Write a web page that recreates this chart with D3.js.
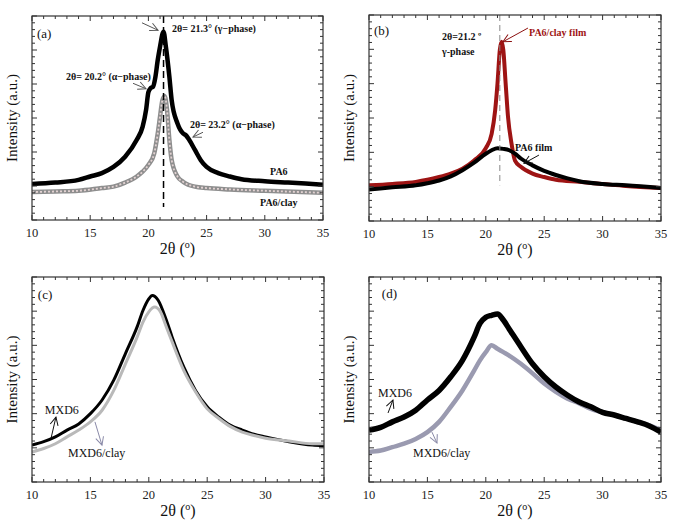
<!DOCTYPE html>
<html>
<head>
<meta charset="utf-8">
<script src="https://cdn.jsdelivr.net/npm/d3@7"></script>
<style>
  body { margin: 0; background: #fff; }
</style>
</head>
<body>
<div id="chart"></div>
<script>
// x ticks shared by all four panels
const xTicks = [10, 15, 20, 25, 30, 35];

// (a) PA6 and PA6/clay
const pa6X = [10, 12, 14, 15, 16, 17, 18, 19, 19.5, 19.8, 20, 20.2, 20.4, 20.6, 20.8, 21.0, 21.3, 21.5, 21.8, 22.0, 22.5, 23.0, 23.2, 23.5, 24, 24.5, 25, 26, 27, 28, 30, 32, 35];
const pa6Y = [5.3, 5.5, 5.9, 6.4, 6.9, 7.8, 9.3, 11.8, 13.7, 16.2, 18.8, 19.4, 19.6, 21.0, 23.5, 25.5, 27.7, 25.5, 21.1, 17.6, 14.2, 12.7, 12.5, 11.8, 10.3, 8.8, 7.8, 6.9, 6.4, 6.0, 5.7, 5.5, 5.2];
const pa6ClayX = [10, 12, 14, 16, 17, 18, 19, 19.5, 20, 20.5, 20.8, 21.0, 21.2, 21.4, 21.6, 21.8, 22.0, 22.5, 23, 24, 25, 27, 30, 35];
const pa6ClayY = [4.1, 4.2, 4.3, 4.7, 4.9, 5.5, 6.4, 7.1, 8.1, 9.8, 12.7, 15.2, 17.6, 18.2, 16.2, 11.8, 8.8, 6.4, 5.6, 4.9, 4.7, 4.5, 4.3, 4.0];

// (b) films
const clayFilmX = [10, 12, 14, 15, 16, 17, 18, 19, 20, 20.5, 20.8, 21.0, 21.2, 21.35, 21.5, 21.7, 21.9, 22.2, 22.5, 23, 24, 25, 26, 28, 30, 32, 35];
const clayFilmY = [5.2, 5.4, 5.7, 6.0, 6.4, 6.9, 7.6, 8.8, 10.6, 12.7, 16.1, 20.0, 24.9, 26.1, 24.9, 20.0, 15.2, 11.3, 8.8, 7.9, 6.9, 6.4, 6.0, 5.7, 5.4, 5.1, 4.8];
const pa6FilmX = [10, 12, 14, 15, 16, 17, 18, 19, 20, 20.5, 21, 21.5, 22, 22.5, 23, 24, 25, 26, 27, 28, 30, 32, 35];
const pa6FilmY = [4.6, 4.9, 5.2, 5.5, 5.9, 6.5, 7.4, 8.5, 9.8, 10.3, 10.6, 10.5, 10.3, 9.8, 9.1, 8.1, 7.3, 6.7, 6.2, 5.8, 5.4, 5.2, 4.8];

// (c) MXD6 and MXD6/clay
const mxdCX = [10, 11, 12, 13, 14, 15, 16, 17, 18, 19, 19.5, 20, 20.3, 20.8, 21.5, 22, 23, 24, 25, 26, 27, 28, 29, 30, 32, 34, 35];
const mxdCY = [5.4, 5.9, 6.6, 7.6, 8.5, 10.0, 12.0, 14.9, 18.8, 22.7, 25.1, 26.8, 27.3, 26.6, 23.7, 21.2, 16.8, 13.4, 11.0, 9.5, 8.3, 7.6, 7.0, 6.6, 5.9, 5.4, 5.3];
const mxdClayCX = [10, 11, 12, 13, 14, 15, 16, 17, 18, 19, 19.5, 20, 20.5, 21, 21.5, 22, 23, 24, 25, 26, 27, 28, 29, 30, 32, 34, 35];
const mxdClayCY = [4.4, 4.9, 5.6, 6.6, 7.6, 8.8, 10.5, 13.4, 17.3, 21.2, 23.4, 24.9, 25.6, 24.9, 22.7, 20.5, 16.3, 13.2, 10.7, 9.3, 8.1, 7.3, 6.8, 6.4, 6.0, 5.6, 5.6];

// (d) MXD6 and MXD6/clay
const mxdDX = [10, 11, 12, 13, 14, 15, 16, 17, 18, 19, 19.5, 20, 20.5, 21, 21.5, 22, 23, 24, 25, 26, 27, 28, 29, 30, 31, 32, 33, 34, 35];
const mxdDY = [7.6, 8.0, 8.8, 9.5, 10.5, 12.0, 13.4, 15.4, 17.8, 21.2, 23.2, 24.1, 24.4, 24.6, 23.7, 22.4, 19.8, 17.3, 15.4, 13.9, 12.7, 11.7, 11.0, 10.2, 9.8, 9.3, 8.8, 8.2, 7.3];
const mxdClayDX = [10, 11, 12, 13, 14, 15, 16, 17, 18, 19, 19.5, 20, 20.5, 21, 21.5, 22, 23, 24, 25, 26, 27, 28, 29, 30, 31, 32, 33, 34, 35];
const mxdClayDY = [4.4, 4.6, 5.1, 5.6, 6.3, 7.3, 8.8, 11.0, 13.4, 16.3, 17.8, 19.0, 20.0, 19.5, 19.0, 18.5, 17.3, 15.9, 14.4, 13.2, 12.2, 11.5, 10.7, 10.2, 9.8, 9.3, 8.8, 8.3, 7.6];

const zip = (xs, ys) => xs.map((x, i) => ({x: x, y: ys[i]}));

const FONT = "'Liberation Serif', 'Times New Roman', Times, serif";
const W = 675, H = 522;
const svg = d3.select("#chart").append("svg")
    .attr("width", W)
    .attr("height", H)
    .attr("font-family", FONT);

// arrow heads (open chevrons)
const defs = svg.append("defs");
[["k", "#111"], ["r", "#8b1010"], ["g", "#555"], ["l", "#8a8aa8"]].forEach(([id, c]) => {
    defs.append("marker")
        .attr("id", "arr-" + id)
        .attr("viewBox", "-10 -6 12 12")
        .attr("refX", 0).attr("refY", 0)
        .attr("markerWidth", 12).attr("markerHeight", 12)
        .attr("markerUnits", "userSpaceOnUse")
        .attr("orient", "auto")
        .append("path")
        .attr("d", "M-8,-4 L0,0 L-8,4")
        .attr("fill", "none")
        .attr("stroke", c)
        .attr("stroke-width", 1);
});

const panels = [
    {
        id: "a", left: 32, right: 323, top: 16, bottom: 220,
        series: [
            {data: zip(pa6X, pa6Y), stroke: "#000", width: 4.5},
            {data: zip(pa6ClayX, pa6ClayY), stroke: "#8e8e8e", width: 4.5},
            {data: zip(pa6ClayX, pa6ClayY), stroke: "#e2d2d2", width: 1.8, dash: "2,2"}
        ],
        vline: {x: 21.3, y0: 30, y1: 1.9, stroke: "#000", width: 1.5, dash: "7,4"},
        labels: [
            {t: "(a)", x: 10.43, y: 26.8, size: 13, bold: false},
            {t: "2θ= 21.3° (γ−phase)", x: 22.03, y: 27.6, size: 10, bold: true},
            {t: "2θ= 20.2° (α−phase)", x: 12.92, y: 20.6, size: 10, bold: true},
            {t: "2θ= 23.2° (α−phase)", x: 23.57, y: 13.5, size: 10, bold: true},
            {t: "PA6", x: 30.45, y: 6.6, size: 10, bold: true},
            {t: "PA6/clay", x: 29.59, y: 2.1, size: 10, bold: true}
        ],
        arrows: [
            {x0: 19.45, y0: 29.0, x1: 20.83, y1: 27.9, m: "g", c: "#555"},
            {x0: 18.68, y0: 20.1, x1: 19.80, y1: 19.3, m: "g", c: "#555"},
            {x0: 24.69, y0: 12.9, x1: 23.83, y1: 12.2, m: "g", c: "#555"}
        ]
    },
    {
        id: "b", left: 369, right: 661, top: 15, bottom: 221,
        series: [
            {data: zip(clayFilmX, clayFilmY), stroke: "#9e1414", width: 4},
            {data: zip(pa6FilmX, pa6FilmY), stroke: "#000", width: 4}
        ],
        vline: {x: 21.2, y0: 30, y1: 5.2, stroke: "#888", width: 1, dash: "6,4"},
        labels: [
            {t: "(b)", x: 10.43, y: 27.1, size: 13, bold: false},
            {t: "2θ=21.2 º", x: 16.25, y: 26.4, size: 10, bold: true},
            {t: "γ-phase", x: 16.25, y: 24.2, size: 10, bold: true},
            {t: "PA6/clay film", x: 23.7, y: 26.9, size: 10, bold: true, fill: "#9e1414"},
            {t: "PA6 film", x: 22.5, y: 10.2, size: 10, bold: true}
        ],
        arrows: [
            {x0: 23.61, y0: 28.1, x1: 21.47, y1: 26.1, m: "r", c: "#8b1010"},
            {x0: 24.55, y0: 9.6, x1: 23.27, y1: 8.4, m: "k", c: "#111"}
        ]
    },
    {
        id: "c", left: 32, right: 324, top: 277, bottom: 482,
        series: [
            {data: zip(mxdCX, mxdCY), stroke: "#000", width: 3},
            {data: zip(mxdClayCX, mxdClayCY), stroke: "#b9b9b9", width: 3}
        ],
        labels: [
            {t: "(c)", x: 10.5, y: 26.8, size: 13, bold: false},
            {t: "MXD6", x: 11.1, y: 9.9, size: 12, bold: false},
            {t: "MXD6/clay", x: 13.08, y: 3.7, size: 12, bold: false}
        ],
        arrows: [
            {x0: 11.63, y0: 6.4, x1: 12.05, y1: 9.5, m: "k", c: "#111"},
            {x0: 15.39, y0: 8.8, x1: 15.99, y1: 5.4, m: "l", c: "#8a8aa8"}
        ]
    },
    {
        id: "d", left: 369, right: 661, top: 277, bottom: 482,
        series: [
            {data: zip(mxdClayDX, mxdClayDY), stroke: "#9a9ab0", width: 4.5},
            {data: zip(mxdDX, mxdDY), stroke: "#000", width: 5.5}
        ],
        labels: [
            {t: "(d)", x: 11.1, y: 26.9, size: 13, bold: false},
            {t: "MXD6", x: 10.77, y: 12.4, size: 12, bold: false},
            {t: "MXD6/clay", x: 13.77, y: 3.7, size: 12, bold: false}
        ],
        arrows: [
            {x0: 11.63, y0: 10.1, x1: 12.05, y1: 12.0, m: "k", c: "#111"},
            {x0: 15.39, y0: 7.3, x1: 15.82, y1: 5.7, m: "l", c: "#8a8aa8"}
        ]
    }
];

panels.forEach(p => {
    const x = d3.scaleLinear().domain([10, 35]).range([p.left, p.right]);
    const y = d3.scaleLinear().domain([0, 30]).range([p.bottom, p.top]);
    const g = svg.append("g");

    const clipId = "clip-" + p.id;
    defs.append("clipPath").attr("id", clipId)
        .append("rect")
        .attr("x", p.left).attr("y", p.top)
        .attr("width", p.right - p.left).attr("height", p.bottom - p.top);

    const line = d3.line()
        .x(d => x(d.x))
        .y(d => y(d.y))
        .curve(d3.curveMonotoneX);

    const plot = g.append("g").attr("clip-path", "url(#" + clipId + ")");
    p.series.forEach(s => {
        plot.append("path")
            .datum(s.data)
            .attr("fill", "none")
            .attr("stroke", s.stroke)
            .attr("stroke-width", s.width)
            .attr("stroke-linejoin", "round")
            .attr("stroke-dasharray", s.dash || null)
            .attr("d", line);
    });

    if (p.vline) {
        g.append("line")
            .attr("x1", x(p.vline.x)).attr("x2", x(p.vline.x))
            .attr("y1", y(p.vline.y0)).attr("y2", y(p.vline.y1))
            .attr("stroke", p.vline.stroke)
            .attr("stroke-width", p.vline.width)
            .attr("stroke-dasharray", p.vline.dash);
    }

    // inward ticks on all four sides, no y labels
    const xMinor = d3.range(10, 36, 1);
    const yMinor = d3.range(0, 31, 1);
    const tickLen = v => (v % 5 === 0 ? 5 : 3);

    const tk = g.append("g").attr("stroke", "#333").attr("stroke-width", 1);
    xMinor.forEach(v => {
        tk.append("line").attr("x1", x(v)).attr("x2", x(v))
            .attr("y1", p.bottom).attr("y2", p.bottom - tickLen(v));
        tk.append("line").attr("x1", x(v)).attr("x2", x(v))
            .attr("y1", p.top).attr("y2", p.top + tickLen(v));
    });
    yMinor.forEach(v => {
        tk.append("line").attr("y1", y(v)).attr("y2", y(v))
            .attr("x1", p.left).attr("x2", p.left + tickLen(v));
        tk.append("line").attr("y1", y(v)).attr("y2", y(v))
            .attr("x1", p.right).attr("x2", p.right - tickLen(v));
    });

    g.append("rect")
        .attr("x", p.left).attr("y", p.top)
        .attr("width", p.right - p.left).attr("height", p.bottom - p.top)
        .attr("fill", "none")
        .attr("stroke", "#333")
        .attr("stroke-width", 1.2);

    // x tick labels
    g.append("g").selectAll("text")
        .data(xTicks)
        .enter().append("text")
        .attr("x", d => x(d))
        .attr("y", p.bottom + 17)
        .attr("text-anchor", "middle")
        .attr("font-size", 12.5)
        .attr("fill", "#222")
        .text(d => d);

    // x axis title: 2θ (°)
    const xt = g.append("text")
        .attr("x", (p.left + p.right) / 2)
        .attr("y", p.bottom + 34)
        .attr("text-anchor", "middle")
        .attr("font-size", 16)
        .attr("fill", "#111");
    xt.append("tspan").text("2θ (");
    xt.append("tspan").attr("font-size", 10).attr("dy", -6).text("o");
    xt.append("tspan").attr("dy", 6).text(")");

    // y axis title
    g.append("text")
        .attr("transform", `translate(${p.left - 15},${(p.top + p.bottom) / 2}) rotate(-90)`)
        .attr("text-anchor", "middle")
        .attr("font-size", 15)
        .attr("fill", "#111")
        .text("Intensity (a.u.)");

    // annotations
    p.labels.forEach(l => {
        g.append("text")
            .attr("x", x(l.x))
            .attr("y", y(l.y))
            .attr("font-size", l.size)
            .attr("font-weight", l.bold ? "bold" : "normal")
            .attr("fill", l.fill || "#111")
            .text(l.t);
    });
    p.arrows.forEach(a => {
        g.append("line")
            .attr("x1", x(a.x0)).attr("y1", y(a.y0))
            .attr("x2", x(a.x1)).attr("y2", y(a.y1))
            .attr("stroke", a.c)
            .attr("stroke-width", 1)
            .attr("marker-end", "url(#arr-" + a.m + ")");
    });
});
</script>
</body>
</html>
